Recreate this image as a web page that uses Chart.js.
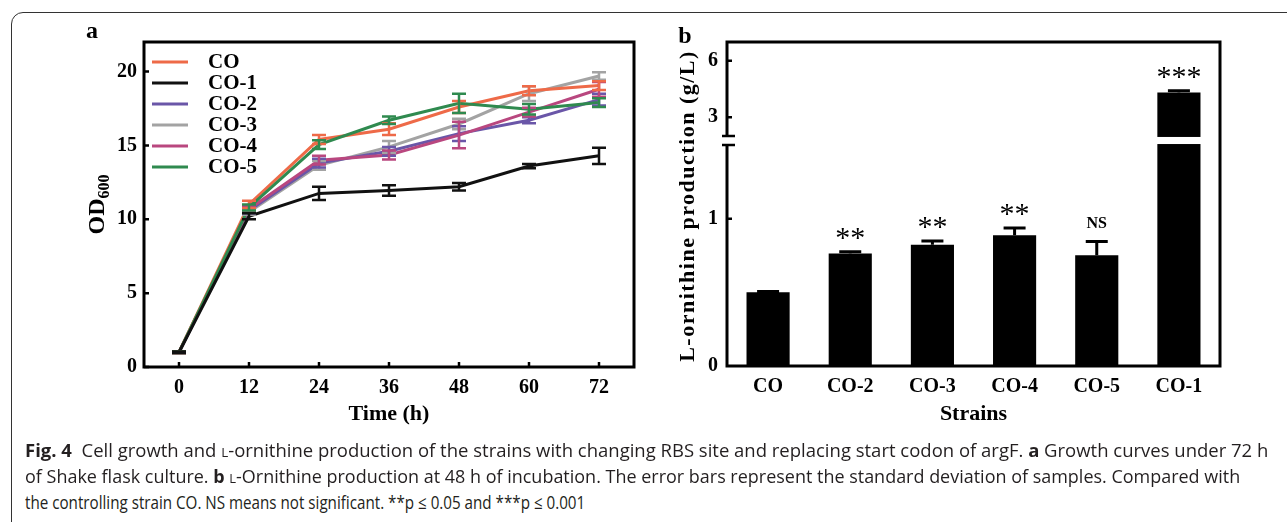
<!DOCTYPE html>
<html>
<head>
<meta charset="utf-8">
<title>Fig. 4</title>
<script src="https://cdn.jsdelivr.net/npm/chart.js@4.4.1/dist/chart.umd.min.js"></script>
<style>
  html, body { margin: 0; padding: 0; background: #fff; }
  body { position: relative; width: 1287px; height: 522px; overflow: hidden; }
  #frame { position: absolute; left: 11px; top: 12px; width: 1400px; height: 600px; border: 1.5px solid #333; border-radius: 12px; }
  #chart-a { position: absolute; left: 0; top: 0; }
  #chart-b { position: absolute; left: 640px; top: 0; }
  .caption-line { position: absolute; left: 25px; height: 26px; line-height: 26px; white-space: nowrap;
    font-family: 'Open Sans', 'Noto Sans', sans-serif; font-size: 18px; color: #231f20; transform-origin: 0 50%; }
  .sc { font-variant: small-caps; }
</style>
</head>
<body>
<div id="frame"></div>
<canvas id="chart-a" width="650" height="440"></canvas>
<canvas id="chart-b" width="647" height="440"></canvas>

<div class="caption-line" style="top:437px" data-w="1243"><b>Fig. 4</b>&nbsp; Cell growth and <span class="sc">l</span>-ornithine production of the strains with changing RBS site and replacing start codon of argF. <b>a</b> Growth curves under 72 h</div>
<div class="caption-line" style="top:463px" data-w="1215">of Shake flask culture. <b>b</b> <span class="sc">l</span>-Ornithine production at 48 h of incubation. The error bars represent the standard deviation of samples. Compared with</div>
<div class="caption-line" style="top:489px" data-w="560">the controlling strain CO. NS means not significant. **p ≤ 0.05 and ***p ≤ 0.001</div>

<script>
// ---- Panel a: growth curves (OD600) ----
const timePoints = [0, 12, 24, 36, 48, 60, 72];
const xTicksA = [0, 12, 24, 36, 48, 60, 72];
const yTicksA = [0, 5, 10, 15, 20];
const strainsA = ['CO', 'CO-1', 'CO-2', 'CO-3', 'CO-4', 'CO-5'];

const odCO  = [1, 11.0, 15.4, 16.1, 17.6, 18.7, 19.05];
const odCO1 = [1, 10.2, 11.75, 11.95, 12.2, 13.6, 14.3];
const odCO2 = [1, 10.6, 13.8, 14.6, 15.8, 16.7, 18.1];
const odCO3 = [1, 10.5, 13.65, 14.9, 16.45, 18.5, 19.7];
const odCO4 = [1, 10.7, 14.0, 14.35, 15.7, 17.25, 18.8];
const odCO5 = [1, 10.8, 15.05, 16.7, 17.85, 17.45, 17.9];

const sdCO  = [0.05, 0.25, 0.3, 0.4, 0.4, 0.3, 0.3];
const sdCO1 = [0.05, 0.2, 0.45, 0.35, 0.25, 0.15, 0.55];
const sdCO2 = [0.05, 0.2, 0.3, 0.3, 0.5, 0.2, 0.4];
const sdCO3 = [0.05, 0.2, 0.3, 0.4, 0.35, 0.5, 0.25];
const sdCO4 = [0.05, 0.2, 0.3, 0.3, 0.9, 0.3, 0.5];
const sdCO5 = [0.05, 0.2, 0.3, 0.25, 0.65, 0.35, 0.3];

// ---- Panel b: L-ornithine production ----
const strainsB = ['CO', 'CO-2', 'CO-3', 'CO-4', 'CO-5', 'CO-1'];
const prodB = [0.50, 0.763, 0.823, 0.888, 0.752, 4.31];
const sdB = [0.005, 0.013, 0.025, 0.048, 0.093, 0.1];
const sigB = ['', '**', '**', '**', 'NS', '***'];
const yTicksB = [0, 1, 3, 6];
const breakLow = 1.5;   // lower segment ends here
const breakHigh = 2;    // upper segment starts here
const yMaxB = 7;

const seriesA = [odCO, odCO1, odCO2, odCO3, odCO4, odCO5];
const errorsA = [sdCO, sdCO1, sdCO2, sdCO3, sdCO4, sdCO5];
const colorsA = ['#ee6a48', '#111111', '#6a56a8', '#a3a3a3', '#b9477f', '#2f8a4f'];
const drawOrderA = [2, 0, 4, 5, 3, 1]; // lower = drawn on top

const SERIF = "'Liberation Serif', 'Times New Roman', serif";
Chart.defaults.font.family = SERIF;
Chart.defaults.color = '#000';

// caption lines squeezed to the width each has in the original
document.querySelectorAll('.caption-line').forEach(el => {
    const natural = el.offsetWidth;
    el.style.transform = `scaleX(${el.dataset.w / natural})`;
});

// Panel a extras: error bars, frame, inward ticks, legend, titles
const panelAPlugin = {
    id: 'panelA',
    afterDatasetsDraw(chart) {
        const { ctx, chartArea: ca, scales: { x, y } } = chart;

        // error bars, same stacking as the lines
        const idx = seriesA.map((_, i) => i).sort((a, b) => drawOrderA[b] - drawOrderA[a]);
        for (const i of idx) {
            ctx.save();
            ctx.strokeStyle = colorsA[i];
            ctx.lineWidth = 2.5;
            seriesA[i].forEach((v, j) => {
                const px = x.getPixelForValue(timePoints[j]);
                const hi = y.getPixelForValue(v + errorsA[i][j]);
                const lo = y.getPixelForValue(v - errorsA[i][j]);
                ctx.beginPath();
                ctx.moveTo(px, hi); ctx.lineTo(px, lo);
                ctx.moveTo(px - 7, hi); ctx.lineTo(px + 7, hi);
                ctx.moveTo(px - 7, lo); ctx.lineTo(px + 7, lo);
                ctx.stroke();
            });
            ctx.restore();
        }

        ctx.save();
        // frame
        ctx.strokeStyle = '#000';
        ctx.lineWidth = 3;
        ctx.strokeRect(ca.left, ca.top, ca.right - ca.left, ca.bottom - ca.top);
        // inward ticks
        ctx.lineWidth = 2.5;
        ctx.beginPath();
        xTicksA.forEach(v => {
            const px = x.getPixelForValue(v);
            ctx.moveTo(px, ca.bottom); ctx.lineTo(px, ca.bottom - 5);
        });
        yTicksA.forEach(v => {
            const py = y.getPixelForValue(v);
            ctx.moveTo(ca.left, py); ctx.lineTo(ca.left + 5, py);
        });
        ctx.stroke();

        // legend
        ctx.font = `bold 21px ${SERIF}`;
        ctx.textBaseline = 'middle';
        ctx.textAlign = 'left';
        strainsA.forEach((name, i) => {
            const ry = ca.top + 20 + i * 21;
            ctx.strokeStyle = colorsA[i];
            ctx.lineWidth = 3;
            ctx.beginPath();
            ctx.moveTo(ca.left + 8, ry); ctx.lineTo(ca.left + 44, ry);
            ctx.stroke();
            ctx.fillStyle = '#000';
            ctx.fillText(name, ca.left + 64, ry + 1);
        });

        // x title
        ctx.font = `bold 22px ${SERIF}`;
        ctx.textAlign = 'center';
        ctx.fillText('Time (h)', (ca.left + ca.right) / 2, 414);

        // y title OD600 with subscript
        ctx.translate(96, (ca.top + ca.bottom) / 2);
        ctx.rotate(-Math.PI / 2);
        ctx.textAlign = 'left';
        ctx.textBaseline = 'alphabetic';
        const big = `bold 24px ${SERIF}`, small = `bold 16px ${SERIF}`;
        ctx.font = big; const wOD = ctx.measureText('OD').width;
        ctx.font = small; const wSub = ctx.measureText('600').width;
        const x0 = -(wOD + wSub) / 2;
        ctx.font = big; ctx.fillText('OD', x0, 8);
        ctx.font = small; ctx.fillText('600', x0 + wOD, 13);
        ctx.restore();

        // panel letter
        ctx.save();
        ctx.font = `bold 24px ${SERIF}`;
        ctx.textAlign = 'center';
        ctx.textBaseline = 'middle';
        ctx.fillText('a', 92, 32);
        ctx.restore();
    }
};

new Chart(document.getElementById('chart-a'), {
    type: 'line',
    data: {
        datasets: strainsA.map((name, i) => ({
            label: name,
            data: timePoints.map((t, j) => ({ x: t, y: seriesA[i][j] })),
            borderColor: colorsA[i],
            backgroundColor: colorsA[i],
            borderWidth: 3,
            pointRadius: 0,
            tension: 0,
            order: drawOrderA[i],
        })),
    },
    options: {
        responsive: false,
        animation: false,
        layout: { padding: { left: 0, top: 42, right: 16, bottom: 0 } },
        plugins: { legend: { display: false }, tooltip: { enabled: false } },
        scales: {
            x: {
                type: 'linear', min: -6, max: 78,
                grid: { display: false, drawTicks: false },
                border: { display: false },
                ticks: { font: { size: 20, weight: 'bold' }, padding: 9, color: '#000' },
                afterBuildTicks: s => { s.ticks = xTicksA.map(v => ({ value: v })); },
                afterFit: s => { s.height = 73; },
            },
            y: {
                min: 0, max: 22,
                grid: { display: false, drawTicks: false },
                border: { display: false },
                ticks: { font: { size: 20, weight: 'bold' }, padding: 7, color: '#000' },
                afterBuildTicks: s => { s.ticks = yTicksA.map(v => ({ value: v })); },
                afterFit: s => { s.width = 144; },
            },
        },
    },
    plugins: [panelAPlugin],
});

// Broken linear scale for panel b: 0..1.5 below the break, 2..7 above it
const lowerFrac = 0.682, upperFrac = 0.710;
function brokenFrac(v) {
    if (v <= breakLow) return v / breakLow * lowerFrac;
    if (v >= breakHigh) return upperFrac + (v - breakHigh) / (yMaxB - breakHigh) * (1 - upperFrac);
    return lowerFrac + (v - breakLow) / (breakHigh - breakLow) * (upperFrac - lowerFrac);
}
const BaseLinear = Chart.LinearScale || Chart.registry.getScale('linear');
class BrokenLinearScale extends BaseLinear {
    buildTicks() { return yTicksB.map(v => ({ value: v })); }
    getPixelForValue(v) { return this.bottom - brokenFrac(v) * (this.bottom - this.top); }
    getValueForPixel(p) {
        const f = (this.bottom - p) / (this.bottom - this.top);
        if (f <= lowerFrac) return f / lowerFrac * breakLow;
        if (f >= upperFrac) return breakHigh + (f - upperFrac) / (1 - upperFrac) * (yMaxB - breakHigh);
        return breakLow + (f - lowerFrac) / (upperFrac - lowerFrac) * (breakHigh - breakLow);
    }
}
BrokenLinearScale.id = 'brokenLinear';
BrokenLinearScale.defaults = BaseLinear.defaults;
Chart.register(BrokenLinearScale);

const panelBPlugin = {
    id: 'panelB',
    afterDatasetsDraw(chart) {
        const { ctx, chartArea: ca, scales: { x, y } } = chart;
        ctx.save();

        // one-sided error bars
        ctx.strokeStyle = '#000';
        ctx.lineWidth = 3;
        prodB.forEach((v, i) => {
            const px = x.getPixelForValue(i);
            const top = y.getPixelForValue(v);
            const hi = y.getPixelForValue(v + sdB[i]);
            ctx.beginPath();
            ctx.moveTo(px, top); ctx.lineTo(px, hi);
            ctx.moveTo(px - 11, hi); ctx.lineTo(px + 11, hi);
            ctx.stroke();
        });

        // white gap at the axis break
        const gTop = y.getPixelForValue(breakHigh);
        const gBot = y.getPixelForValue(breakLow);
        ctx.fillStyle = '#fff';
        ctx.fillRect(ca.left + 2, gTop + 1, ca.right - ca.left - 4, gBot - gTop - 2);

        // frame with broken left axis
        ctx.strokeStyle = '#000';
        ctx.lineWidth = 3;
        ctx.beginPath();
        ctx.moveTo(ca.left, gTop); ctx.lineTo(ca.left, ca.top);
        ctx.lineTo(ca.right, ca.top);
        ctx.lineTo(ca.right, ca.bottom);
        ctx.lineTo(ca.left, ca.bottom);
        ctx.lineTo(ca.left, gBot);
        ctx.stroke();
        ctx.lineWidth = 2.5;
        ctx.beginPath();
        ctx.moveTo(ca.left - 5, gTop); ctx.lineTo(ca.left + 8, gTop);
        ctx.moveTo(ca.left - 5, gBot); ctx.lineTo(ca.left + 8, gBot);
        yTicksB.forEach(v => {
            if (v === 0) return;
            const py = y.getPixelForValue(v);
            ctx.moveTo(ca.left, py); ctx.lineTo(ca.left + 5, py);
        });
        ctx.stroke();

        // significance marks
        ctx.fillStyle = '#000';
        ctx.textAlign = 'center';
        ctx.textBaseline = 'alphabetic';
        sigB.forEach((s, i) => {
            if (!s) return;
            const px = x.getPixelForValue(i);
            const hi = y.getPixelForValue(prodB[i] + sdB[i]);
            if (s === 'NS') {
                ctx.font = `bold 16px ${SERIF}`;
                ctx.fillText(s, px, hi - 14);
            } else {
                ctx.font = `30px ${SERIF}`;
                ctx.fillText(s, px, hi - 5);
            }
        });

        // titles
        ctx.font = `bold 22px ${SERIF}`;
        ctx.textBaseline = 'middle';
        ctx.fillText('Strains', (ca.left + ca.right) / 2, 414);
        ctx.save();
        ctx.translate(48, 206);
        ctx.rotate(-Math.PI / 2);
        ctx.font = `bold 22px ${SERIF}`;
        ctx.letterSpacing = '1.5px';
        ctx.fillText('L-ornithine production (g/L)', 0, 0);
        ctx.restore();

        ctx.font = `bold 24px ${SERIF}`;
        ctx.fillText('b', 45, 37);
        ctx.restore();
    }
};

new Chart(document.getElementById('chart-b'), {
    type: 'bar',
    data: {
        labels: strainsB,
        datasets: [{
            data: prodB,
            backgroundColor: '#000',
            barPercentage: 0.525,
            categoryPercentage: 1,
        }],
    },
    options: {
        responsive: false,
        animation: false,
        layout: { padding: { left: 0, top: 42, right: 67, bottom: 0 } },
        plugins: { legend: { display: false }, tooltip: { enabled: false } },
        scales: {
            x: {
                grid: { display: false, drawTicks: false },
                border: { display: false },
                ticks: { font: { size: 20, weight: 'bold' }, padding: 9, color: '#000' },
                afterFit: s => { s.height = 74; },
            },
            y: {
                type: 'brokenLinear', min: 0, max: yMaxB,
                grid: { display: false, drawTicks: false },
                border: { display: false },
                ticks: { font: { size: 20, weight: 'bold' }, padding: 9, color: '#000', callback: v => String(v) },
                afterFit: s => { s.width = 87; },
            },
        },
    },
    plugins: [panelBPlugin],
});
</script>
</body>
</html>
